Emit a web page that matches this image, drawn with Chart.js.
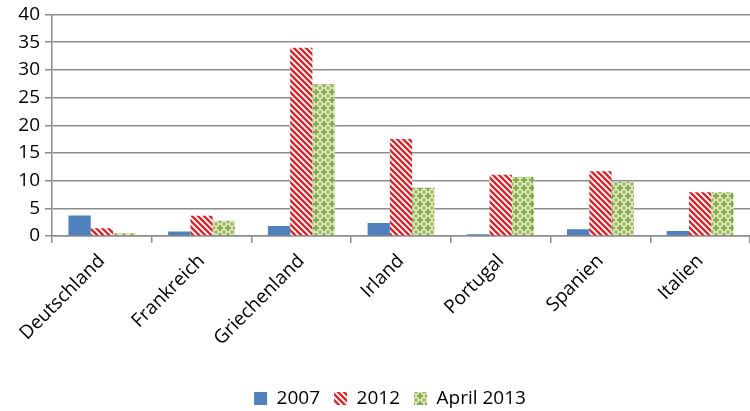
<!DOCTYPE html>
<html>
<head>
<meta charset="utf-8">
<script src="https://cdn.jsdelivr.net/npm/chart.js@4/dist/chart.umd.min.js"></script>
<style>
html,body{margin:0;padding:0;background:#fff;}
#wrap{width:750px;height:411px;}
</style>
</head>
<body>
<div id="wrap"><canvas id="c" width="750" height="411"></canvas></div>
<script>
const categories = ["Deutschland","Frankreich","Griechenland","Irland","Portugal","Spanien","Italien"];
const seriesNames = ["2007","2012","April 2013"];
const values2007 = [3.7, 0.8, 1.8, 2.35, 0.3, 1.2, 0.9];
const values2012 = [1.4, 3.65, 34.0, 17.5, 11.05, 11.7, 7.9];
const valuesApril2013 = [0.5, 2.75, 27.4, 8.7, 10.7, 9.8, 7.9];
const yTicks = [0,5,10,15,20,25,30,35,40];

function stripePattern(){
  const s = 6;
  const c = document.createElement('canvas'); c.width = s; c.height = s;
  const g = c.getContext('2d');
  g.fillStyle = '#ffffff'; g.fillRect(0,0,s,s);
  g.strokeStyle = '#d9262a'; g.lineWidth = 2.4;
  g.beginPath();
  g.moveTo(-1,-1); g.lineTo(s+1,s+1);
  g.moveTo(-s-1,-1); g.lineTo(1,s+1);
  g.moveTo(s-1,-1); g.lineTo(2*s+1,s+1);
  g.stroke();
  return g.createPattern(c,'repeat');
}
function gridPattern(){
  const s = 8;
  const c = document.createElement('canvas'); c.width = s; c.height = s;
  const g = c.getContext('2d');
  g.fillStyle = '#d6e4b8'; g.fillRect(0,0,s,s);
  g.fillStyle = '#86a746';
  g.fillRect(3,1,2,6);
  g.fillRect(1,3,6,2);
  g.fillRect(0,0,1,1); g.fillRect(7,0,1,1); g.fillRect(0,7,1,1); g.fillRect(7,7,1,1);
  g.fillStyle = '#a3bf6c';
  g.fillRect(1,1,1,1); g.fillRect(6,1,1,1); g.fillRect(1,6,1,1); g.fillRect(6,6,1,1);
  return g.createPattern(c,'repeat');
}

const shiftLegend = {
  id: 'shiftLegend',
  beforeDraw(chart) {
    const lg = chart.legend;
    if (lg && !lg._shifted) { lg.left += 15; lg.right += 15; lg._shifted = true; }
  }
};

const FONT = "'Open Sans', sans-serif";
new Chart(document.getElementById('c'), {
  type: 'bar',
  data: {
    labels: categories,
    datasets: [
      {label: seriesNames[0], data: values2007, backgroundColor: '#4f81bd'},
      {label: seriesNames[1], data: values2012, backgroundColor: stripePattern()},
      {label: seriesNames[2], data: valuesApril2013, backgroundColor: gridPattern()}
    ]
  },
  plugins: [shiftLegend],
  options: {
    responsive: false,
    animation: false,
    devicePixelRatio: 1,
    layout: {padding: {top: 13, right: 0, left: 0, bottom: -7}},
    datasets: {bar: {categoryPercentage: 0.67, barPercentage: 1.0}},
    plugins: {
      legend: {
        position: 'bottom',
        labels: {boxWidth: 13, boxHeight: 13, color: '#000', padding: 14,
          font: {family: FONT, size: 19}}
      },
      tooltip: {enabled: false}
    },
    scales: {
      x: {
        offset: true,
        grid: {offset: true, drawOnChartArea: false, drawTicks: true, tickLength: 7, color: '#8c8c8c', lineWidth: 1.5},
        border: {color: '#8c8c8c', width: 1.5},
        ticks: {color: '#000', maxRotation: 45, minRotation: 45, padding: 7, font: {family: FONT, size: 19}},
        afterFit: (s) => { s.height = 139; }
      },
      y: {
        min: 0, max: 40,
        afterBuildTicks: (s) => { s.ticks = yTicks.map(v => ({value: v})); },
        grid: {color: '#8c8c8c', lineWidth: 1.5, drawTicks: true, tickLength: 7},
        border: {color: '#8c8c8c', width: 1.5},
        ticks: {color: '#000', padding: 5, font: {family: FONT, size: 19, lineHeight: 1.0}},
        afterFit: (s) => { s.width = 52; }
      }
    }
  }
});
</script>
</body>
</html>
